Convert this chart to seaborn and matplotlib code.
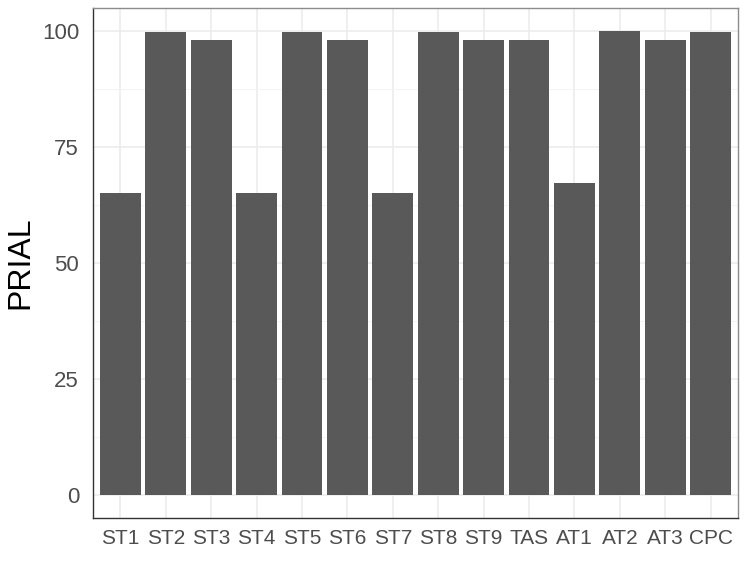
import matplotlib
matplotlib.use("Agg")
import matplotlib.pyplot as plt
import seaborn as sns
import pandas as pd
from matplotlib.ticker import MultipleLocator

categories = ["ST1", "ST2", "ST3", "ST4", "ST5", "ST6", "ST7", "ST8", "ST9", "TAS", "AT1", "AT2", "AT3", "CPC"]
prial = [65.0, 99.8, 98.0, 65.0, 99.8, 98.0, 65.0, 99.8, 98.0, 98.0, 67.3, 100.0, 98.0, 99.9]
y_ticks = [0, 25, 50, 75, 100]

df = pd.DataFrame({"method": pd.Categorical(categories, categories=categories, ordered=True), "PRIAL": prial})

sns.set_style("white")
plt.rcParams['font.family'] = ['Liberation Sans', 'DejaVu Sans']

fig = plt.figure(figsize=(7.47, 5.80), dpi=100)
ax = fig.add_axes([93/747, 1-518/580, (738-93)/747, (518-8)/580])

sns.barplot(data=df, x="method", y="PRIAL", color="#595959", saturation=1, width=0.9, ax=ax, zorder=3,
            edgecolor="#595959", linewidth=0)

ax.set_xlim(-0.6, len(categories) - 0.4)
ax.set_ylim(-5, 105)
ax.set_yticks(y_ticks)
ax.yaxis.set_minor_locator(MultipleLocator(12.5))
ax.grid(True, which="major", color="#EBEBEB", linewidth=1.1, zorder=0)
ax.grid(True, which="minor", axis="y", color="#F2F2F2", linewidth=0.6, zorder=0)
ax.set_axisbelow(True)

for side in ["top", "right"]:
    ax.spines[side].set_color("#8C8C8C")
    ax.spines[side].set_linewidth(1.0)
for side in ["left", "bottom"]:
    ax.spines[side].set_color("#333333")
    ax.spines[side].set_linewidth(1.0)
    ax.spines[side].set_visible(True)

ax.tick_params(axis="both", which="major", length=4, width=1, color="#333333", labelcolor="#4D4D4D", direction="out")
ax.tick_params(axis="y", which="minor", length=0)
ax.tick_params(axis="x", labelsize=15, pad=4)
ax.tick_params(axis="y", labelsize=16, pad=6)

ax.set_xlabel("")
ax.set_ylabel("PRIAL", fontsize=23, color="black", labelpad=5)

fig.savefig("out.png", dpi=100)
